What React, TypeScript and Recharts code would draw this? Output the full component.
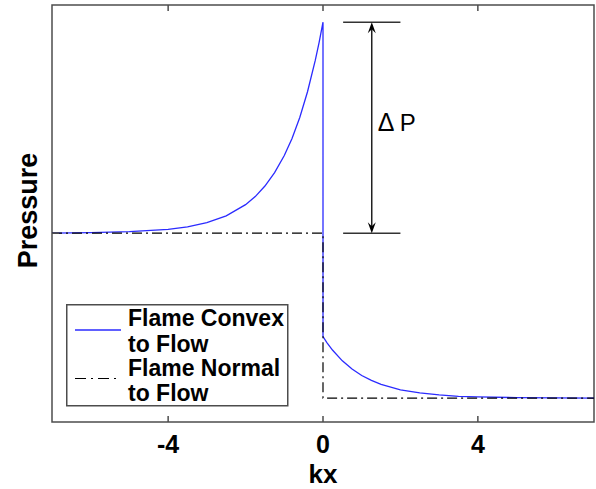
import { ComposedChart, Legend, Line, ReferenceArea, ReferenceLine, XAxis, YAxis } from "recharts";

document.body.style.margin = "0";

const FONT = '"Liberation Sans", Arial, Helvetica, sans-serif';
const FRAME = "#4d4d4d";
const BLUE = "#2b2bff";
const PLOT_TOP = 5;

const X_DOMAIN = [-7, 7];
const Y_DOMAIN = [-0.145, 2.384];
const X_TICKS = [-4, 0, 4];
const Y_TICKS = [1];

// flame convex to flow: pressure jumps down at kx = 0
const convexKx = [-7, -6, -5, -4, -3.5, -3, -2.5, -2, -1.75, -1.5, -1.25, -1, -0.8, -0.6, -0.4, -0.2, -0.1, 0, 0, 0.1, 0.25, 0.5, 0.75, 1, 1.25, 1.5, 2, 2.5, 3, 3.5, 4, 5, 6, 7];
const convexP = [1.0, 1.003, 1.009, 1.023, 1.039, 1.064, 1.105, 1.173, 1.222, 1.286, 1.367, 1.471, 1.575, 1.702, 1.858, 2.048, 2.158, 2.28, 0.373, 0.337, 0.29, 0.226, 0.176, 0.137, 0.107, 0.083, 0.05, 0.031, 0.019, 0.011, 0.007, 0.003, 0.001, 0.0];

// flame normal to flow: a plain step
const normalKx = [-7, 0, 0, 7];
const normalP = [1, 1, 0, 0];

// delta P annotation
const deltaLevels = [2.28, 1];
const deltaBarKx = [0.52, 2.0];
const deltaArrowKx = 1.26;

const convexData = convexKx.map((kx, i) => ({ kx, p: convexP[i] }));
const normalData = normalKx.map((kx, i) => ({ kx, p: normalP[i] }));

// bottom tick: inward tick on both the bottom and top frame edges, plus the label
function BottomTick({ x, y, payload }: any) {
  return (
    <g>
      <line x1={x} x2={x} y1={y} y2={y - 6} stroke={FRAME} strokeWidth={1.5} />
      <line x1={x} x2={x} y1={PLOT_TOP} y2={PLOT_TOP + 6} stroke={FRAME} strokeWidth={1.5} />
      <text x={x} y={y + 31} textAnchor="middle" fontSize={25} fontWeight="bold" fontFamily={FONT} fill="#000">
        {payload.value}
      </text>
    </g>
  );
}

function LeftTick({ x, y }: any) {
  return <line x1={x} x2={x + 7} y1={y} y2={y} stroke={FRAME} strokeWidth={1.5} />;
}

function DeltaArrow(props: any) {
  const { x1, y1, y2 } = props;
  const top = Math.min(y1, y2);
  const bot = Math.max(y1, y2);
  const mid = (top + bot) / 2;
  return (
    <g>
      <line x1={x1} x2={x1} y1={top + 3} y2={bot - 3} stroke="#000" strokeWidth={1.3} />
      <path d={`M${x1},${top} L${x1 - 4},${top + 11} L${x1},${top + 7} L${x1 + 4},${top + 11} Z`} fill="#000" />
      <path d={`M${x1},${bot} L${x1 - 4},${bot - 11} L${x1},${bot - 7} L${x1 + 4},${bot - 11} Z`} fill="#000" />
      <text x={x1 + 6} y={mid + 3} fontSize={25} fontFamily={FONT} fill="#000">Δ</text>
      <text x={x1 + 28} y={mid + 3} fontSize={24} fontFamily={FONT} fill="#000">P</text>
    </g>
  );
}

function LegendBox() {
  const t = { fontSize: 23, fontWeight: "bold" as const, fontFamily: FONT, fill: "#000" };
  return (
    <svg width={224} height={104} style={{ display: "block" }}>
      <rect x={0.75} y={0.75} width={221} height={101} fill="#fff" stroke={FRAME} strokeWidth={1.5} />
      <line x1={9} x2={55} y1={26} y2={26} stroke={BLUE} strokeWidth={1.3} />
      <line x1={9} x2={55} y1={74.5} y2={74.5} stroke="#000" strokeWidth={1.2} strokeDasharray="11 5 2 5" />
      <text x={62} y={22} {...t}>Flame Convex</text>
      <text x={62} y={48} {...t}>to Flow</text>
      <text x={62} y={72} {...t}>Flame Normal</text>
      <text x={62} y={97} {...t}>to Flow</text>
    </svg>
  );
}

export default function App() {
  return (
    <ComposedChart width={596} height={489} margin={{ top: PLOT_TOP, right: 2, left: 0, bottom: 0 }}>
      <XAxis
        dataKey="kx"
        type="number"
        domain={X_DOMAIN}
        ticks={X_TICKS}
        allowDataOverflow
        axisLine={false}
        tickLine={false}
        tickSize={0}
        tickMargin={0}
        height={67}
        tick={<BottomTick />}
        label={(p: any) => (
          <text
            x={p.viewBox.x + p.viewBox.width / 2}
            y={p.viewBox.y + 61}
            textAnchor="middle"
            fontSize={26}
            fontWeight="bold"
            fontFamily={FONT}
            fill="#000"
          >
            kx
          </text>
        )}
      />
      <YAxis
        type="number"
        domain={Y_DOMAIN}
        ticks={Y_TICKS}
        allowDataOverflow
        width={52}
        axisLine={false}
        tickLine={false}
        tickSize={0}
        tickMargin={0}
        tick={<LeftTick />}
        label={(p: any) => {
          const cx = 37;
          const cy = p.viewBox.y + p.viewBox.height / 2 - 3;
          return (
            <text
              x={cx}
              y={cy}
              transform={`rotate(-90 ${cx} ${cy})`}
              textAnchor="middle"
              fontSize={27}
              fontWeight="bold"
              fontFamily={FONT}
              fill="#000"
            >
              Pressure
            </text>
          );
        }}
      />
      <ReferenceArea
        x1={X_DOMAIN[0]}
        x2={X_DOMAIN[1]}
        y1={Y_DOMAIN[0]}
        y2={Y_DOMAIN[1]}
        fill="none"
        stroke={FRAME}
        strokeWidth={1.5}
      />
      <Line data={convexData} dataKey="p" type="linear" stroke={BLUE} strokeWidth={1.3} dot={false} isAnimationActive={false} />
      <Line
        data={normalData}
        dataKey="p"
        type="linear"
        stroke="#000"
        strokeWidth={1.2}
        strokeDasharray="10 4 2 4"
        dot={false}
        isAnimationActive={false}
      />
      {deltaLevels.map((lvl) => (
        <ReferenceLine
          key={lvl}
          segment={[
            { x: deltaBarKx[0], y: lvl },
            { x: deltaBarKx[1], y: lvl },
          ]}
          stroke="#333"
          strokeWidth={1.5}
        />
      ))}
      <ReferenceLine
        segment={[
          { x: deltaArrowKx, y: deltaLevels[0] },
          { x: deltaArrowKx, y: deltaLevels[1] },
        ]}
        shape={(p: any) => <DeltaArrow {...p} />}
      />
      <Legend
        layout="horizontal"
        verticalAlign="middle"
        align="center"
        content={() => <LegendBox />}
        wrapperStyle={{ left: 66, top: 304, width: 224, height: 104 }}
      />
    </ComposedChart>
  );
}
